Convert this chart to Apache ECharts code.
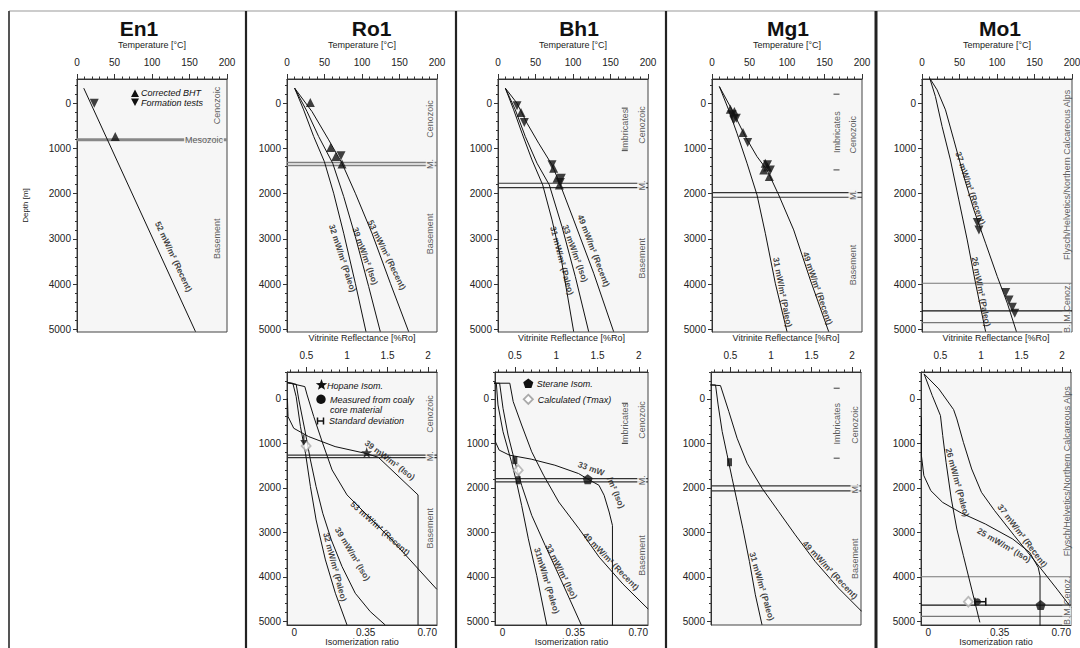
<!DOCTYPE html>
<html><head><meta charset="utf-8">
<script src="https://cdn.jsdelivr.net/npm/echarts@6/dist/echarts.min.js"></script>
<style>html,body{margin:0;padding:0;background:#fff}#c{width:1080px;height:648px}</style>
</head><body><div id="c"></div>
<script>
// ================= DATA =================
const wells = ['En1','Ro1','Bh1','Mg1','Mo1'];
const tempTicks = [0,50,100,150,200];
const depthTicks = [0,1000,2000,3000,4000,5000];
const vrTicks = [0.5,1,1.5,2];
const isoTicks = [0,0.35,0.70];

// ---- Temperature vs depth  [T degC, depth m] ----
const en1Recent52 = [[9,-332],[158,5052]];
const en1BHT = [[51,737]];
const en1FT = [[23,0]];
const en1Bounds = [811];

const ro1Paleo32 = [[10.2,-332],[22.2,147],[35.6,737],[49.8,1291],[62.2,1991],[75.6,2876],[91.1,3982],[105.3,5052]];
const ro1Iso39 = [[10.2,-332],[26.7,184],[42.2,737],[60.9,1327],[75.6,2065],[91.1,2950],[108.9,4056],[124.4,5052]];
const ro1Recent53 = [[10.2,-332],[33.3,184],[55.6,811],[73.3,1327],[91.1,1991],[113.3,2876],[137.8,3982],[162.2,5052]];
const ro1BHT = [[31.1,-15],[58.2,981],[65,1180],[73.3,1342]];
const ro1FT = [[72,1165]];
const ro1Bounds = [1310,1378];

const bh1Paleo31 = [[9.8,-332],[20.9,147],[32,664],[45.3,1254],[59.6,1807],[72,2581],[85.3,3540],[100.9,5052]];
const bh1Iso33 = [[9.8,-332],[23.1,147],[36.4,737],[52,1327],[68.4,1807],[85.3,2729],[103.1,3835],[120.9,5052]];
const bh1Recent49 = [[9.8,-332],[25.3,0],[38.7,442],[54.2,885],[72,1364],[83.1,1807],[100.9,2581],[127.6,3761],[154.2,5052]];
const bh1BHT = [[30.7,206],[74.2,1438],[78.7,1659],[81.8,1807]];
const bh1FT = [[25.3,59],[35.1,428],[72,1364],[84.4,1659],[83.1,1755]];
const bh1Bounds = [1770,1866];
const bh1Imbricates = [[169,110],[169,1047]];

const mg1Paleo31 = [[9.8,-369],[22.2,147],[33.3,664],[46.7,1327],[60,2028],[71.1,2876],[84.4,3982],[100,5052]];
const mg1Recent49 = [[9.8,-369],[26.7,147],[44.4,737],[60,1180],[73.3,1475],[88.9,2028],[108.9,2802],[131.1,3909],[155.6,5052]];
const mg1BHT = [[24.4,133],[29.8,184],[41.3,649],[71,1327],[69,1475],[76.4,1622],[74,1410]];
const mg1FT = [[26.7,258],[32.4,332],[28.9,369],[47.6,870],[74,1364],[77.8,1475]];
const mg1Bounds = [1976,2080];
const mg1Imbricates = [[166,-199],[166,1475]];

const mo1Recent37 = [[10.3,-553],[20.1,-295],[31.3,147],[42.4,811],[55.8,1622],[69.2,2360],[84.8,3097],[100.4,3835],[113.8,4425],[125.9,5052]];
const mo1Paleo26 = [[10.3,-553],[17.9,-147],[26.8,516],[37.9,1254],[49.1,2139],[60.3,3024],[71.4,3982],[84.8,5052]];
const mo1FT = [[73.7,2640],[75.9,2802],[111.6,4189],[116.1,4351],[120.5,4513],[123.7,4646]];
const mo1Bounds = [3982,4594,4853];

// ---- Vitrinite reflectance [%Ro, depth] and isomerization ratio [ratio, depth] ----
const ro1VRPaleo32 = [[0.262,-367],[0.332,-352],[0.373,-52],[0.426,622],[0.488,1221],[0.549,1970],[0.619,2719],[0.734,3618],[0.857,4367],[1.0,5079]];
const ro1VRIso39 = [[0.262,-367],[0.373,-330],[0.406,22],[0.48,697],[0.549,1371],[0.619,1970],[0.701,2569],[0.807,3169],[0.939,3768],[1.102,4367],[1.287,4779],[1.471,5079]];
const ro1VRRecent53 = [[0.262,-367],[0.48,-277],[0.508,-90],[0.59,397],[0.693,959],[0.816,1596],[1.0,2157],[1.553,3169],[2.107,4277]];
const ro1HopaneIso39 = [[-0.034,-15],[-0.031,397],[-0.003,659],[0.07,846],[0.2,1071],[0.347,1221],[0.412,1311],[0.607,2157],[0.607,5079]];
const ro1HopaneMeas = [[0.355,1206]];
const ro1Tmax = [[0.496,1056]];
const ro1VRMeas = [[0.467,921]];
const ro1BoundsB = [1262,1318];

const bh1VRPaleo31 = [[0.247,-353],[0.276,-353],[0.296,135],[0.357,737],[0.459,1414],[0.52,1865],[0.582,2391],[0.663,3143],[0.765,3970],[0.888,5098]];
const bh1VRIso33 = [[0.247,-353],[0.316,-353],[0.357,211],[0.418,812],[0.5,1414],[0.582,1940],[0.704,2617],[0.867,3293],[1.071,4120],[1.308,5098]];
const bh1VRRecent49 = [[0.247,-353],[0.439,-353],[0.48,60],[0.582,586],[0.704,1188],[0.847,1714],[1.031,2316],[1.276,2917],[1.52,3556],[1.806,4158],[2.112,4722]];
const bh1SteraneIso33 = [[-0.034,677],[-0.034,962],[-0.016,1150],[0.033,1263],[0.138,1353],[0.252,1489],[0.366,1677],[0.412,1805],[0.464,1940],[0.489,2165],[0.513,2541],[0.529,2842],[0.529,5098]];
const bh1SteraneMeas = [[0.41,1805]];
const bh1Tmax = [[0.541,1601]];
const bh1VRMeas = [[0.5,1376],[0.541,1827]];
const bh1BoundsB = [1789,1865];
const bh1ImbricatesB = [[1.83,98],[1.83,1000]];

const mg1VRPaleo31 = [[0.254,-314],[0.316,-314],[0.348,135],[0.398,734],[0.459,1257],[0.52,1781],[0.582,2305],[0.652,2904],[0.734,3653],[0.807,4401],[0.889,5075]];
const mg1VRRecent49 = [[0.254,-314],[0.377,-299],[0.48,284],[0.582,883],[0.705,1445],[0.889,2006],[1.094,2530],[1.299,3054],[1.545,3653],[1.832,4251],[2.119,4775]];
const mg1VRMeas = [[0.488,1422]];
const mg1BoundsB = [1954,2066];
const mg1ImbricatesB = [[1.81,-240],[1.81,1332]];

const mo1VRPaleo26 = [[0.298,-562],[0.399,-75],[0.5,375],[0.528,825],[0.569,1424],[0.634,2249],[0.702,2924],[0.783,3523],[0.885,4273],[0.986,5022]];
const mo1VRRecent37 = [[0.298,-562],[0.48,-225],[0.662,240],[0.702,450],[0.783,975],[0.885,1574],[1.006,2099],[1.168,2511],[1.411,3073],[1.694,3711],[1.937,4273],[2.111,4685]];
const mo1SteraneIso25 = [[-0.034,412],[-0.034,1274],[-0.022,1724],[0.012,2061],[0.07,2324],[0.162,2564],[0.28,2811],[0.414,3148],[0.497,3448],[0.539,3786],[0.548,3973],[0.548,5135]];
const mo1SteraneMeas = [[0.551,4633]];
const mo1Tmax = [[0.844,4558]];
const mo1VRMeas = [[0.957,4558]];
const mo1VRStd = [[0.925,4558],[1.059,4558]];
const mo1BoundsB = [3996,4633,4888];

// ---- annotations: [text, x, depth, clockwise angle] ----
const en1CurveLabels = [['52 mW/m² (Recent)',128.9,3392,65]];
const ro1CurveLabels = [['53 mW/m² (Recent)',133.3,3355,64],['39 mW/m² (Iso)',104.4,3378,70],['32 mW/m² (Paleo)',74.2,3429,72]];
const bh1CurveLabels = [['49 mW/m² (Recent)',127.6,3260,69],['33 mW/m² (Iso)',103.1,3319,70],['31 mW/m² (Paleo)',85.3,3481,75]];
const mg1CurveLabels = [['49 mW/m² (Recent)',140.9,4093,71],['31 mW/m² (Paleo)',94.2,4181,79]];
const mo1CurveLabels = [['37 mW/m² (Recent)',64.7,1881,71],['26 mW/m² (Paleo)',79,4167,79]];
const ro1VRLabels = [['53 mW/m² (Recent)',1.41,2906,42],['39 mW/m² (Iso)',1.07,3483,59],['32 mW/m² (Paleo)',0.852,3775,75]];
const ro1IsoLabels = [['39 mW/m² (Iso)',0.469,1371,37]];
const bh1VRLabels = [['49 mW/m² (Recent)',1.663,3647,46],['33 mW/m² (Iso)',1.063,3872,63],['31mW/m² (Paleo)',0.888,4083,73]];
const bh1IsoLabels = [['33 mW',0.427,1564,20],['/m² (Iso)',0.546,2105,67]];
const mg1VRLabels = [['49 mW/m² (Recent)',1.73,3840,47],['31 mW/m² (Paleo)',0.889,4214,74]];
const mo1VRLabels = [['37 mW/m² (Recent)',1.512,3073,53],['26 mW/m² (Paleo)',0.711,1874,75]];
const mo1IsoLabels = [['25 mW/m² (Iso)',0.372,3283,30]];

// zone labels [text, x, depth]
const en1Zones = [['Cenozoic',186,52],['Basement',186,3000]];
const ro1Zones = [['Cenozoic',191,347],['Basement',191,2890],['M.',191,1345]];
const bh1Zones = [['Cenozoic',191.6,480],['Basement',191.6,3430],['M.',191.6,1818],['Imbricates',169,580]];
const mg1Zones = [['Cenozoic',188,700],['Basement',188,3577],['M.',188,2028],['Imbricates',166,640]];
const mo1Zones = [['Flysch/Helvetics/Northern Calcareous Alps',193,1585],['Cenoz.',193,4292],['M.',193,4722],['B.',193,4990]];
const ro1ZonesB = [['Cenozoic',2.024,337],['Basement',2.024,2906],['M.',2.024,1290]];
const bh1ZonesB = [['Cenozoic',2.034,474],['Basement',2.034,3519],['M.',2.034,1827],['Imbricates',1.83,560]];
const mg1ZonesB = [['Cenozoic',2.036,584],['Basement',2.036,3593],['M.',2.036,2010],['Imbricates',1.81,560]];
const mo1ZonesB = [['Flysch/Helvetics/Northern Calcareous Alps',2.057,1627],['Cenoz.',2.057,4310],['M.',2.057,4760],['B.',2.057,4986]];

// ================= CHART =================
const FF = 'Liberation Sans, Arial, Helvetica, sans-serif';
const TOP_D = [-535, 5060], BOT_D = [-605, 5080];
const TEMP_R = [0, 200], VR_R = [0.26, 2.11], ISO_R = [-0.036, 0.70];
const PLOT_BG = '#f6f6f6';
const option = {animation:false, backgroundColor:'#ffffff', grid:[], xAxis:[], yAxis:[], series:[], graphic:[]};

function addGrid(left, top, width){
  option.grid.push({left:left, top:top, width:width, height:253, show:true, backgroundColor:PLOT_BG,
    borderColor:'#444', borderWidth:1, containLabel:false, outerBoundsMode:'none'});
  return option.grid.length-1;
}
function addX(a){ option.xAxis.push(a); return option.xAxis.length-1; }
function addY(a){ option.yAxis.push(a); return option.yAxis.length-1; }
const AX_LINE = {show:true, onZero:false, lineStyle:{color:'#333', width:1}};
const LBL = {fontFamily:FF, fontSize:10, color:'#222'};
const NAME = {fontFamily:FF, fontSize:9, color:'#222'};

function tempAxis(g){
  return {gridIndex:g, type:'value', position:'top', min:TEMP_R[0], max:TEMP_R[1], interval:50,
    axisLine:AX_LINE, axisTick:{show:true, inside:false, length:5, lineStyle:{color:'#333'}},
    minorTick:{show:true, splitNumber:5, length:2.5, lineStyle:{color:'#333'}},
    splitLine:{show:false}, minorSplitLine:{show:false},
    axisLabel:Object.assign({margin:12, formatter:v=>String(v)}, LBL),
    name:'Temperature [°C]', nameLocation:'middle', nameGap:30, nameTextStyle:NAME};
}
function vrAxis(g){
  return {gridIndex:g, type:'value', position:'top', min:VR_R[0], max:VR_R[1], splitNumber:4,
    axisLine:AX_LINE, axisTick:{show:true, inside:false, length:5, customValues:vrTicks, lineStyle:{color:'#333'}},
    minorTick:{show:true, splitNumber:5, length:2.5, lineStyle:{color:'#333'}},
    splitLine:{show:false}, minorSplitLine:{show:false},
    axisLabel:Object.assign({margin:12, customValues:vrTicks, formatter:v=>String(v)}, LBL),
    name:'Vitrinite Reflectance [%Ro]', nameLocation:'middle', nameGap:30, nameTextStyle:NAME};
}
function isoAxis(g){
  return {gridIndex:g, type:'value', position:'bottom', min:ISO_R[0], max:ISO_R[1],
    axisLine:AX_LINE, axisTick:{show:false},
    splitLine:{show:false},
    axisLabel:Object.assign({margin:2, customValues:isoTicks, alignMaxLabel:'right',
      formatter:v=>(v===0?'0':v.toFixed(2))}, LBL),
    name:'Isomerization ratio', nameLocation:'middle', nameGap:12, nameTextStyle:NAME};
}
function depthAxis(g, r, named){
  return {gridIndex:g, type:'value', inverse:true, position:'left', min:r[0], max:r[1], splitNumber:5,
    axisLine:AX_LINE, axisTick:{show:true, length:4, customValues:depthTicks, lineStyle:{color:'#333'}},
    minorTick:{show:true, splitNumber:5, length:2, lineStyle:{color:'#333'}},
    splitLine:{show:false}, minorSplitLine:{show:false},
    axisLabel:Object.assign({margin:6, customValues:depthTicks, formatter:v=>String(v)}, LBL),
    name: named ? 'Depth [m]' : '', nameLocation:'middle', nameGap:48, nameRotate:90,
    nameTextStyle:{fontFamily:FF, fontSize:8, color:'#222'}};
}

const SYM = {
  up:{symbol:'triangle', size:9, rotate:0},
  down:{symbol:'triangle', size:9, rotate:180},
  star:{symbol:'path://M50,0 L61.8,35.1 L98.8,35.1 L68.9,56.8 L80.3,91.9 L50,70.2 L19.7,91.9 L31.1,56.8 L1.2,35.1 L38.2,35.1 Z', size:11},
  pent:{symbol:'path://M50,0 L97.6,34.5 L79.4,90.5 L20.6,90.5 L2.4,34.5 Z', size:10},
  diamond:{symbol:'diamond', size:[9,10], style:{color:'#ffffff', borderColor:'#aaaaaa', borderWidth:1.8}},
  rect:{symbol:'rect', size:[5,8]},
  dot:{symbol:'circle', size:7},
  arrow:{symbol:'path://M4,0 L6,0 L6,8 L10,8 L5,16 L0,8 L4,8 Z', size:[7,11]}
};

function curve(xi, yi, data){
  option.series.push({type:'line', xAxisIndex:xi, yAxisIndex:yi, data:data, symbol:'none', showSymbol:false,
    clip:true, silent:true, lineStyle:{color:'#111', width:1}, z:3});
}
function marks(xi, yi, data, kind){
  const s = SYM[kind];
  option.series.push({type:'scatter', xAxisIndex:xi, yAxisIndex:yi, data:data, symbol:s.symbol,
    symbolSize:s.size, symbolRotate:s.rotate||0, itemStyle:s.style||{color:'#111'}, silent:true, z:6});
}
function hlines(xi, yi, xr, depths, styles){
  depths.forEach((d,k)=>{
    option.series.push({type:'line', xAxisIndex:xi, yAxisIndex:yi, data:[[xr[0],d],[xr[1],d]], symbol:'none',
      silent:true, lineStyle:styles[k % styles.length], z:2});
  });
}
function texts(xi, yi, arr, lab, fixedRot){
  option.series.push({type:'scatter', xAxisIndex:xi, yAxisIndex:yi, symbolSize:1,
    itemStyle:{color:'rgba(0,0,0,0)'}, silent:true, z:8,
    data:arr.map(a=>({name:a[0], value:[a[1],a[2]],
      label:{rotate: fixedRot!==undefined ? fixedRot : -a[3]}})),
    label:Object.assign({show:true, position:'inside', formatter:'{b}', fontFamily:FF}, lab)});
}
function zoneTexts(xi, yi, arr){
  texts(xi, yi, arr.filter(a=>a[0]!=='M.' && a[0]!=='B.'), {fontSize:9, color:'#333'}, 90);
  texts(xi, yi, arr.filter(a=>a[0]==='M.' || a[0]==='B.'), {fontSize:9, color:'#333', backgroundColor:PLOT_BG, padding:[0,0]}, 90);
}
const CURVE_LBL = {fontSize:8.5, fontWeight:'bold', color:'#111'};

// ---- top panels ----
const topLefts = [77,287,498,712,922];
const T = topLefts.map((l,i)=>{ const g = addGrid(l,79,150); return {x:addX(tempAxis(g)), y:addY(depthAxis(g,TOP_D,i===0))}; });
// ---- bottom panels ----
function bottomPanel(left, width, withIso){
  const g = addGrid(left,372,width);
  const p = {vr:addX(vrAxis(g)), y:addY(depthAxis(g,BOT_D,false))};
  if (withIso) p.iso = addX(isoAxis(g));
  return p;
}
const B = {Ro1:bottomPanel(287,150,true), Bh1:bottomPanel(495,153,true), Mg1:bottomPanel(711,150,false), Mo1:bottomPanel(921,150,true)};

const grayLine = {color:'#808080', width:1.5};
const darkLine = {color:'#333', width:1.2};

// En1
hlines(T[0].x, T[0].y, TEMP_R, en1Bounds, [{color:'#888', width:3}]);
curve(T[0].x, T[0].y, en1Recent52);
marks(T[0].x, T[0].y, en1BHT, 'up'); marks(T[0].x, T[0].y, en1FT, 'down');
texts(T[0].x, T[0].y, en1CurveLabels, CURVE_LBL);
zoneTexts(T[0].x, T[0].y, en1Zones);
texts(T[0].x, T[0].y, [['Mesozoic',169.3,811]], {fontSize:9, color:'#333', backgroundColor:PLOT_BG, padding:[1,1]}, 0);

// Ro1 top
hlines(T[1].x, T[1].y, TEMP_R, ro1Bounds, [grayLine]);
[ro1Paleo32, ro1Iso39, ro1Recent53].forEach(d=>curve(T[1].x, T[1].y, d));
marks(T[1].x, T[1].y, ro1BHT, 'up'); marks(T[1].x, T[1].y, ro1FT, 'down');
texts(T[1].x, T[1].y, ro1CurveLabels, CURVE_LBL);
zoneTexts(T[1].x, T[1].y, ro1Zones);

// Bh1 top
hlines(T[2].x, T[2].y, TEMP_R, bh1Bounds, [darkLine]);
[bh1Paleo31, bh1Iso33, bh1Recent49].forEach(d=>curve(T[2].x, T[2].y, d));
marks(T[2].x, T[2].y, bh1BHT, 'up'); marks(T[2].x, T[2].y, bh1FT, 'down');
texts(T[2].x, T[2].y, bh1CurveLabels, CURVE_LBL);
zoneTexts(T[2].x, T[2].y, bh1Zones);
option.series.push({type:'scatter', xAxisIndex:T[2].x, yAxisIndex:T[2].y, data:bh1Imbricates, symbol:'rect', symbolSize:[6,1.2], itemStyle:{color:'#333'}, silent:true});

// Mg1 top
hlines(T[3].x, T[3].y, TEMP_R, mg1Bounds, [darkLine]);
[mg1Paleo31, mg1Recent49].forEach(d=>curve(T[3].x, T[3].y, d));
marks(T[3].x, T[3].y, mg1BHT, 'up'); marks(T[3].x, T[3].y, mg1FT, 'down');
texts(T[3].x, T[3].y, mg1CurveLabels, CURVE_LBL);
zoneTexts(T[3].x, T[3].y, mg1Zones);
option.series.push({type:'scatter', xAxisIndex:T[3].x, yAxisIndex:T[3].y, data:mg1Imbricates, symbol:'rect', symbolSize:[6,1.2], itemStyle:{color:'#333'}, silent:true});

// Mo1 top
hlines(T[4].x, T[4].y, TEMP_R, mo1Bounds, [{color:'#777',width:1.2},{color:'#111',width:1.2},{color:'#777',width:1.2}]);
[mo1Paleo26, mo1Recent37].forEach(d=>curve(T[4].x, T[4].y, d));
marks(T[4].x, T[4].y, mo1FT, 'down');
texts(T[4].x, T[4].y, mo1CurveLabels, CURVE_LBL);
zoneTexts(T[4].x, T[4].y, mo1Zones);

// Ro1 bottom
let P = B.Ro1;
hlines(P.vr, P.y, VR_R, ro1BoundsB, [darkLine]);
[ro1VRPaleo32, ro1VRIso39, ro1VRRecent53].forEach(d=>curve(P.vr, P.y, d));
curve(P.iso, P.y, ro1HopaneIso39);
marks(P.iso, P.y, ro1HopaneMeas, 'star');
marks(P.vr, P.y, ro1Tmax, 'diamond');
marks(P.vr, P.y, ro1VRMeas, 'arrow');
texts(P.vr, P.y, ro1VRLabels, CURVE_LBL);
texts(P.iso, P.y, ro1IsoLabels, CURVE_LBL);
zoneTexts(P.vr, P.y, ro1ZonesB);

// Bh1 bottom
P = B.Bh1;
hlines(P.vr, P.y, VR_R, bh1BoundsB, [darkLine]);
[bh1VRPaleo31, bh1VRIso33, bh1VRRecent49].forEach(d=>curve(P.vr, P.y, d));
curve(P.iso, P.y, bh1SteraneIso33);
marks(P.iso, P.y, bh1SteraneMeas, 'pent');
marks(P.vr, P.y, bh1Tmax, 'diamond');
marks(P.vr, P.y, bh1VRMeas, 'rect');
texts(P.vr, P.y, bh1VRLabels, CURVE_LBL);
texts(P.iso, P.y, bh1IsoLabels, CURVE_LBL);
zoneTexts(P.vr, P.y, bh1ZonesB);
option.series.push({type:'scatter', xAxisIndex:P.vr, yAxisIndex:P.y, data:bh1ImbricatesB, symbol:'rect', symbolSize:[6,1.2], itemStyle:{color:'#333'}, silent:true});

// Mg1 bottom
P = B.Mg1;
hlines(P.vr, P.y, VR_R, mg1BoundsB, [darkLine]);
[mg1VRPaleo31, mg1VRRecent49].forEach(d=>curve(P.vr, P.y, d));
marks(P.vr, P.y, mg1VRMeas, 'rect');
texts(P.vr, P.y, mg1VRLabels, CURVE_LBL);
zoneTexts(P.vr, P.y, mg1ZonesB);
option.series.push({type:'scatter', xAxisIndex:P.vr, yAxisIndex:P.y, data:mg1ImbricatesB, symbol:'rect', symbolSize:[6,1.2], itemStyle:{color:'#333'}, silent:true});

// Mo1 bottom
P = B.Mo1;
hlines(P.vr, P.y, VR_R, mo1BoundsB, [{color:'#777',width:1.2},{color:'#111',width:1.2},{color:'#777',width:1.2}]);
[mo1VRPaleo26, mo1VRRecent37].forEach(d=>curve(P.vr, P.y, d));
curve(P.iso, P.y, mo1SteraneIso25);
marks(P.iso, P.y, mo1SteraneMeas, 'pent');
marks(P.vr, P.y, mo1Tmax, 'diamond');
option.series.push({type:'line', xAxisIndex:P.vr, yAxisIndex:P.y, data:mo1VRStd, symbol:'rect', symbolSize:[1.5,8], showSymbol:true,
  itemStyle:{color:'#111'}, lineStyle:{color:'#111', width:1.5}, silent:true, z:5});
marks(P.vr, P.y, mo1VRMeas, 'dot');
texts(P.vr, P.y, mo1VRLabels, CURVE_LBL);
texts(P.iso, P.y, mo1IsoLabels, CURVE_LBL);
zoneTexts(P.vr, P.y, mo1ZonesB);

// ---- frame, titles, legends (graphic) ----
const G = option.graphic;
function gline(x1,y1,x2,y2,stroke,w){ G.push({type:'line', silent:true, shape:{x1,y1,x2,y2}, style:{stroke, lineWidth:w}, z:100}); }
function gtext(x,y,text,font,align){ G.push({type:'text', silent:true, x, y, style:{text, font, fill:'#111', align:align||'left', textAlign:align||'left', verticalAlign:'middle', textVerticalAlign:'middle'}, z:100}); }
function gpoly(pts, fill, stroke, lw){ G.push({type:'polygon', silent:true, shape:{points:pts}, style:{fill, stroke:stroke||null, lineWidth:lw||0}, z:100}); }
function regPoly(cx,cy,r,n,rot){ const p=[]; for(let k=0;k<n;k++){ const a=rot+k*2*Math.PI/n; p.push([cx+r*Math.cos(a), cy+r*Math.sin(a)]); } return p; }
function starPts(cx,cy,R,r){ const p=[]; for(let k=0;k<10;k++){ const a=-Math.PI/2+k*Math.PI/5; const rr=k%2?r:R; p.push([cx+rr*Math.cos(a), cy+rr*Math.sin(a)]); } return p; }

gline(9,11,1080,11,'#999',1);
gline(9,11,9,648,'#555',2);
[246,456,666].forEach(x=>gline(x,11,x,648,'#222',2.2));
gline(876,11,876,648,'#222',3);

const titleX = [139,371.7,579,788,1000];
wells.forEach((w,i)=>gtext(titleX[i],28.5,w,'bold 21px '+FF,'center'));

const LEG = 'italic 9px '+FF;
gpoly([[131,97],[139,97],[135,89.5]],'#111');
gpoly([[131,98.5],[139,98.5],[135,106]],'#111');
gtext(141,93,'Corrected BHT',LEG); gtext(141,102.5,'Formation tests',LEG);

gpoly(starPts(321.5,385,6,2.5),'#111');
gtext(327,385.5,'Hopane Isom.',LEG);
G.push({type:'circle', silent:true, shape:{cx:321,cy:399.3,r:4.7}, style:{fill:'#111'}, z:100});
gtext(330,399.5,'Measured from coaly',LEG); gtext(330,410,'core material',LEG);
gline(317.5,421,323.5,421,'#111',1.5); gline(317.5,417.5,317.5,424.5,'#111',1.5); gline(323.5,417.5,323.5,424.5,'#111',1.5);
gtext(329,421,'Standard deviation',LEG);

gpoly(regPoly(528.3,383.8,5.3,5,-Math.PI/2),'#111');
gtext(536.7,383.5,'Sterane Isom.',LEG);
gpoly(regPoly(528.3,399.3,4.6,4,-Math.PI/2),'#fff','#aaa',1.8);
gtext(537.7,399.5,'Calculated (Tmax)',LEG);

const chart = echarts.init(document.getElementById('c'), null, {renderer:'svg', width:1080, height:648});
chart.setOption(option);
</script></body></html>
